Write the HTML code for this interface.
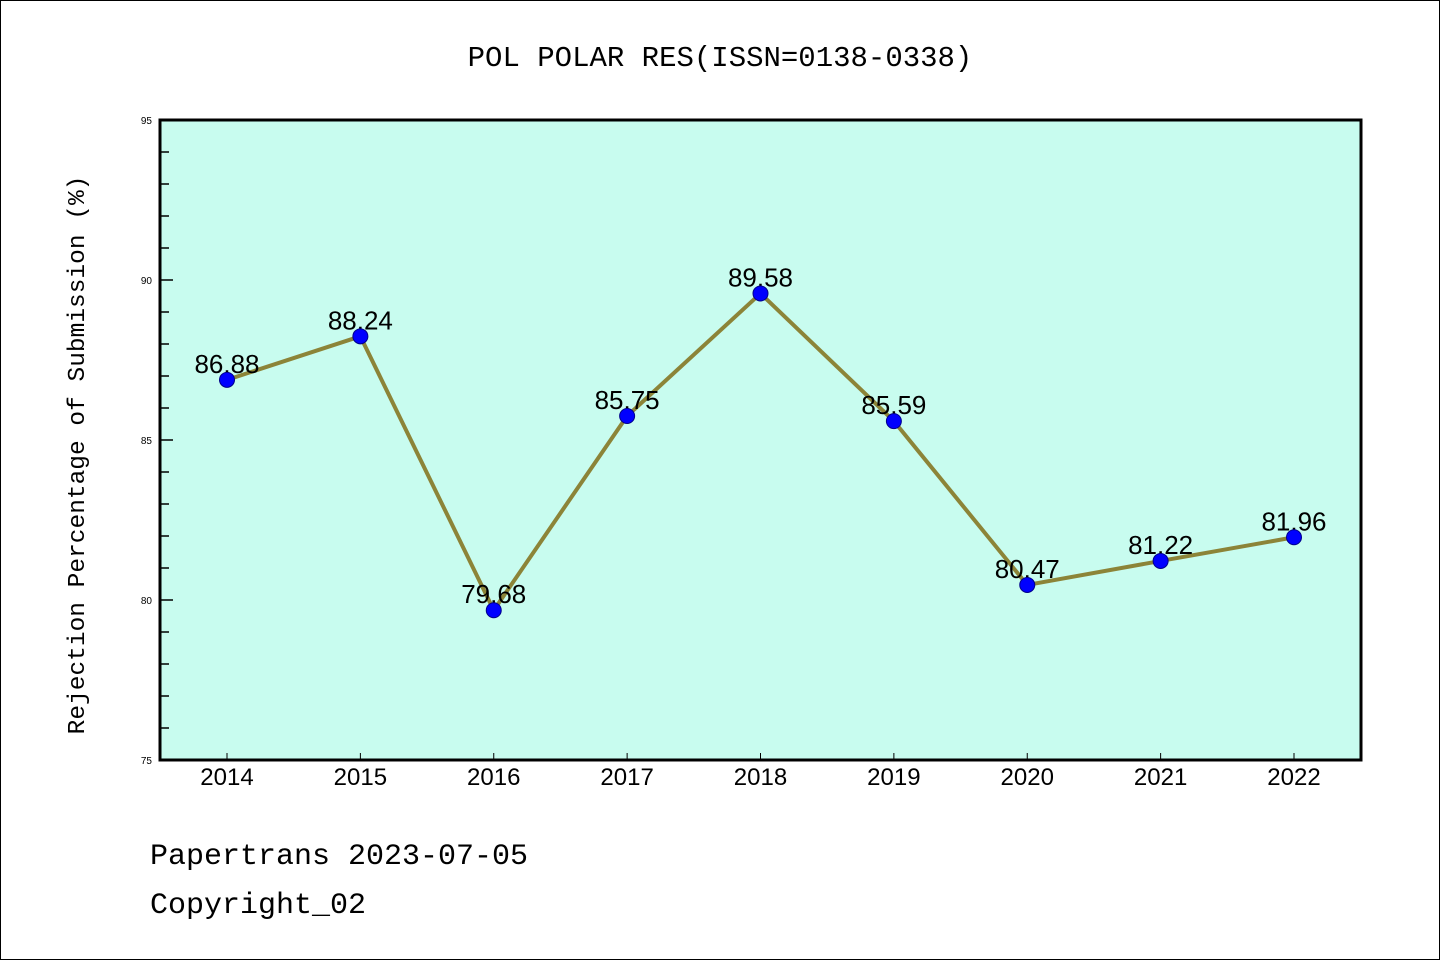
<!DOCTYPE html>
<html><head><meta charset="utf-8"><style>
html,body{margin:0;padding:0;background:#fff}
svg{display:block}
</style></head><body>
<svg id="chart" width="1440" height="960" viewBox="0 0 1440 960">
<rect x="0.5" y="0.5" width="1439" height="959" fill="#fff" stroke="#000"/>
<text x="720" y="66" text-anchor="middle" font-family="Liberation Mono, monospace" font-size="29">POL POLAR RES(ISSN=0138-0338)</text>
<rect x="160" y="120" width="1201" height="640" fill="#c8fcef"/>
<g id="axes"></g>
<g id="series"></g>
<rect x="160" y="120" width="1201" height="640" fill="none" stroke="#000" stroke-width="3"/>
<text transform="translate(84,455) rotate(-90)" text-anchor="middle" font-family="Liberation Mono, monospace" font-size="24.5">Rejection Percentage of Submission (%)</text>
<text x="150" y="864" font-family="Liberation Mono, monospace" font-size="30">Papertrans 2023-07-05</text>
<text x="150" y="913" font-family="Liberation Mono, monospace" font-size="30">Copyright_02</text>
</svg>
<script>
const categories = ["2014","2015","2016","2017","2018","2019","2020","2021","2022"];
const values = [86.88,88.24,79.68,85.75,89.58,85.59,80.47,81.22,81.96];
const yTickLabels = [75,80,85,90,95];
const NS="http://www.w3.org/2000/svg";
const yMin=75,yMax=95,plotTop=120,plotBot=760;
function yScale(v){return plotBot-(v-yMin)/(yMax-yMin)*(plotBot-plotTop);}
const xFirst=227,xLast=1294;
function xScale(i){return xFirst+i*(xLast-xFirst)/(categories.length-1);}
function mk(tag,attrs,parent){const e=document.createElementNS(NS,tag);for(const k in attrs)e.setAttribute(k,attrs[k]);parent.appendChild(e);return e;}
const axesG=document.getElementById('axes'), seriesG=document.getElementById('series');
for(let v=yMin; v<=yMax; v++){
  const major = yTickLabels.includes(v);
  const t=mk('line',{x1:160,x2:160+(major?13:9),y1:yScale(v),y2:yScale(v),stroke:'#000','stroke-width':1.5},axesG);
  
  
}
yTickLabels.forEach(v=>{
  const t=mk('text',{x:152,y:yScale(v)+4,'text-anchor':'end','font-family':'Liberation Sans, sans-serif','font-size':10},axesG);
  t.textContent=v;
  
  
});
categories.forEach((c,i)=>{
  const t=mk('line',{x1:xScale(i),x2:xScale(i),y1:760,y2:753,stroke:'#000','stroke-width':1},axesG);
  
  
  const l=mk('text',{x:xScale(i),y:785,'text-anchor':'middle','font-family':'Liberation Sans, sans-serif','font-size':24},axesG);
  l.textContent=c;
  
  
});
const line=mk('polyline',{points:values.map((v,i)=>xScale(i)+','+yScale(v)).join(' '),fill:'none',stroke:'#8c8438','stroke-width':4,'stroke-linejoin':'round'},seriesG);


values.forEach((v,i)=>{
  const l=mk('text',{x:xScale(i),y:yScale(v)-7,'text-anchor':'middle','font-family':'Liberation Sans, sans-serif','font-size':26},seriesG);
  l.textContent=v.toFixed(2);
  
  
});
values.forEach((v,i)=>{
  const p=mk('circle',{cx:xScale(i),cy:yScale(v),r:7.5,fill:'#0000ff',stroke:'#00008b','stroke-width':1},seriesG);
  
  
});
</script>
</body></html>
